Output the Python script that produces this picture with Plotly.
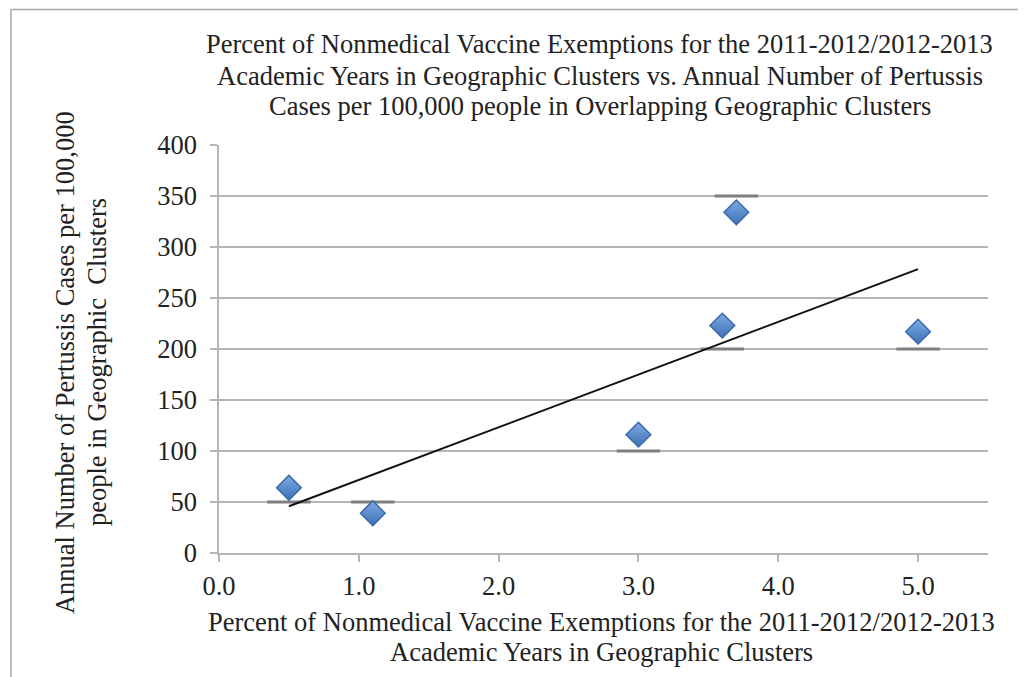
import numpy as np
import plotly.graph_objects as go

# Data
exemption_pct = [0.5, 1.1, 3.0, 3.6, 3.7, 5.0]
pertussis_rate = [64, 39, 116, 223, 334, 217]
dash_values = [50, 50, 100, 200, 350, 200]

x_ticks = [0, 1, 2, 3, 4, 5]
y_ticks = [0, 50, 100, 150, 200, 250, 300, 350, 400]

title_lines = ["Percent of Nonmedical Vaccine Exemptions for the 2011-2012/2012-2013",
               "Academic Years in Geographic Clusters vs. Annual Number of Pertussis",
               "Cases per 100,000 people in Overlapping Geographic Clusters"]
x_title_lines = ["Percent of Nonmedical Vaccine Exemptions for the 2011-2012/2012-2013",
                 "Academic Years in Geographic Clusters"]
y_title_lines = ["Annual Number of Pertussis Cases per 100,000",
                 "people in Geographic  Clusters"]

# Linear trendline (least squares fit)
slope, intercept = np.polyfit(exemption_pct, pertussis_rate, 1)
trend_x = [min(exemption_pct), max(exemption_pct)]
trend_y = [slope * v + intercept for v in trend_x]

FONT = "Liberation Serif"
FS = 26.5
TXT = "#222222"
GRID = "#b5b5b5"

fig = go.Figure()

fig.add_trace(go.Scatter(
    x=exemption_pct, y=dash_values, mode="markers",
    marker=dict(symbol="line-ew", size=31, line=dict(color="#7f7f7f", width=3)),
    hoverinfo="skip", showlegend=False))

fig.add_trace(go.Scatter(
    x=trend_x, y=trend_y, mode="lines",
    line=dict(color="#111111", width=2), hoverinfo="skip", showlegend=False))

fig.add_trace(go.Scatter(
    x=exemption_pct, y=pertussis_rate, mode="markers",
    marker=dict(symbol="diamond", size=19, color="#7fabe3",
                gradient=dict(type="vertical", color="#3d70b6"),
                line=dict(color="#3a6aad", width=1.5)),
    showlegend=False))

annotations = []
for txt, yy in zip(title_lines, [1.2475, 1.1691, 1.0956]):
    annotations.append(dict(text=txt, xref="paper", yref="paper", x=0.495, y=yy,
                            xanchor="center", yanchor="middle", showarrow=False,
                            font=dict(family=FONT, size=FS, color=TXT)))
for txt, yy in zip(x_title_lines, [-0.1691, -0.2426]):
    annotations.append(dict(text=txt, xref="paper", yref="paper", x=0.498, y=yy,
                            xanchor="center", yanchor="middle", showarrow=False,
                            font=dict(family=FONT, size=FS, color=TXT)))
for txt, xx in zip(y_title_lines, [-0.2003, -0.1586]):
    annotations.append(dict(text=txt, xref="paper", yref="paper", x=xx, y=0.468,
                            xanchor="center", yanchor="middle", showarrow=False,
                            textangle=-90,
                            font=dict(family=FONT, size=FS, color=TXT)))

fig.update_layout(
    width=1018, height=669,
    margin=dict(l=211, r=38, t=137, b=124),
    paper_bgcolor="white", plot_bgcolor="white",
    font=dict(family=FONT, size=FS, color=TXT),
    showlegend=False,
    xaxis=dict(range=[0, 5.5], tickvals=x_ticks, tickformat=".1f",
               showgrid=False, zeroline=False,
               showline=True, linecolor=GRID, linewidth=1.5,
               ticks="outside", ticklen=7, tickwidth=1.5, tickcolor=GRID,
               ticklabelstandoff=1,
               tickfont=dict(family=FONT, size=FS, color=TXT)),
    yaxis=dict(range=[0, 400], tickvals=y_ticks,
               showgrid=True, gridcolor=GRID, gridwidth=1.5, zeroline=False,
               showline=True, linecolor=GRID, linewidth=1.5,
               ticks="outside", ticklen=7, tickwidth=1.5, tickcolor=GRID,
               ticklabelstandoff=8,
               tickfont=dict(family=FONT, size=FS, color=TXT)),
    annotations=annotations,
    shapes=[
        dict(type="line", xref="paper", yref="paper", x0=-0.2705, x1=1.06,
             y0=1.3321, y1=1.3321, line=dict(color="#a6a6a6", width=1.5)),
        dict(type="line", xref="paper", yref="paper", x0=-0.2705, x1=-0.2705,
             y0=1.3321, y1=-0.32, line=dict(color="#a6a6a6", width=1.5)),
    ],
)

fig.write_html("out.html")
